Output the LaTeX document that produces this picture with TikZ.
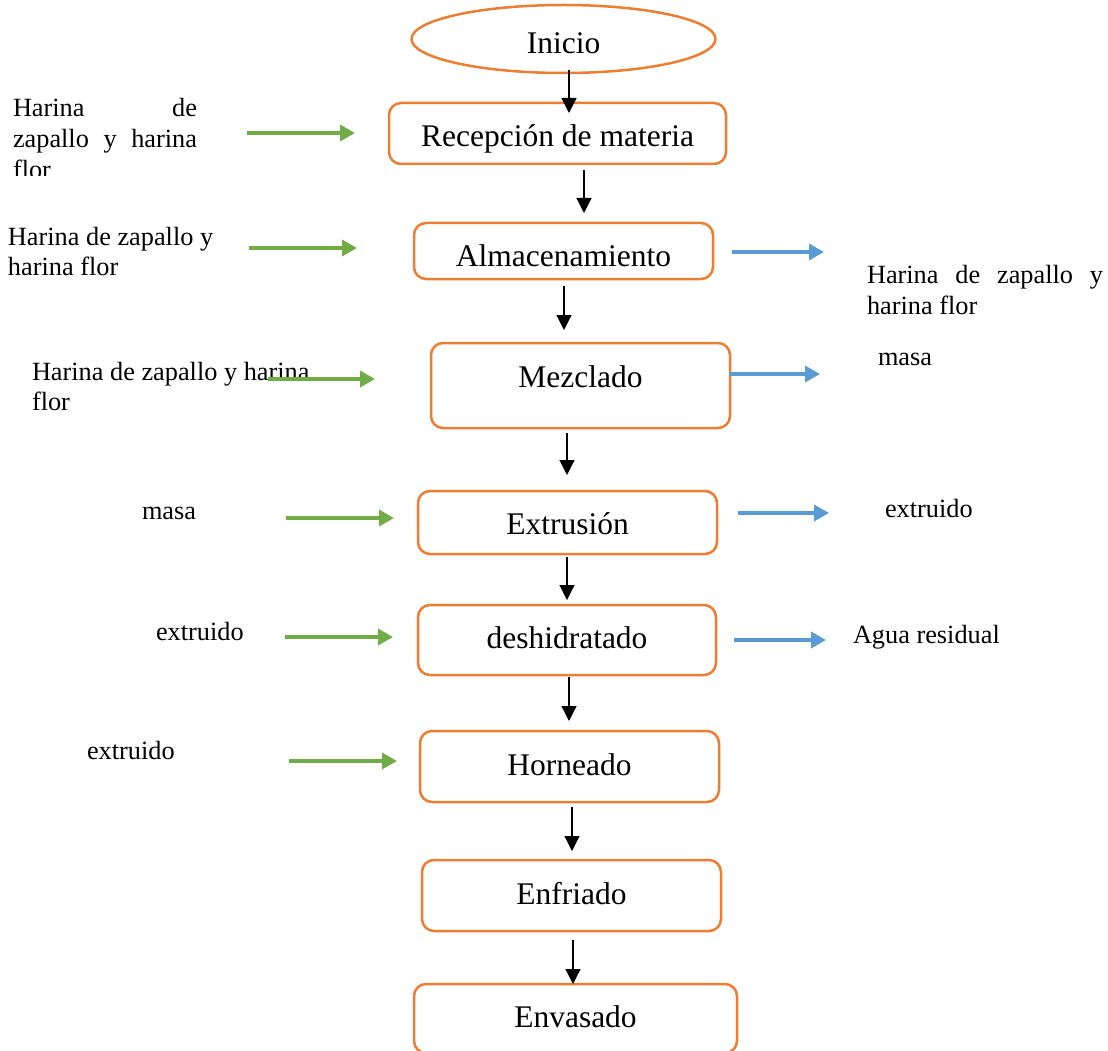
\documentclass[tikz,border=0pt]{standalone}
\usepackage{fontspec}
\setmainfont{Liberation Serif}
\usetikzlibrary{shapes.geometric,arrows.meta}
\definecolor{orn}{HTML}{ED7D31}
\definecolor{grn}{HTML}{70AD47}
\definecolor{blu}{HTML}{5B9BD5}
\newcommand\bxfont{\fontsize{31.5}{37}\selectfont}
\newcommand\sdfont{\fontsize{26.3}{31}\selectfont}
\begin{document}
\begin{tikzpicture}[x=1pt,y=-1pt,
  stepbox/.style={draw=orn, line width=2.5pt, rounded corners=12pt, inner sep=0pt, outer sep=0pt, font=\bxfont, text depth=0pt},
  startell/.style={ellipse, draw=orn, line width=2.5pt, inner sep=0pt, outer sep=0pt, font=\bxfont, text depth=0pt},
  sidelbl/.style={anchor=base west, inner sep=0pt, outer sep=0pt, font=\sdfont},
  blk/.style={line width=1.2pt, -{Triangle[length=15pt,width=15pt]}},
  garr/.style={grn, line width=3.5pt, -{Triangle[length=15pt,width=16pt]}},
  barr/.style={blu, line width=3.5pt, -{Triangle[length=15pt,width=16pt]}}]
\useasboundingbox (0,0) rectangle (1108,1051);
\clip (0,0) rectangle (1108,1051);

% main column
\node[startell, minimum width=304pt, minimum height=68pt, text height=30pt] (inicio) at (563.5,39) {Inicio};
\node[stepbox, minimum width=337pt, minimum height=61pt, text height=27pt] (rec) at (557.5,133.5) {Recepción de materia};
\node[stepbox, minimum width=299pt, minimum height=56pt, text height=30pt] (alm) at (563.5,251) {Almacenamiento};
\node[stepbox, minimum width=299pt, minimum height=85pt, text height=3pt] (mez) at (580.5,385.5) {Mezclado};
\node[stepbox, minimum width=299pt, minimum height=63pt, text height=23pt] (ext) at (567.5,522.5) {Extrusión};
\node[stepbox, minimum width=298pt, minimum height=70pt, text height=16pt] (desh) at (567,640) {deshidratado};
\node[stepbox, minimum width=299pt, minimum height=71pt, text height=17pt] (horn) at (569.5,766.5) {Horneado};
\node[stepbox, minimum width=299pt, minimum height=71pt, text height=17pt] (enf) at (571.5,895.5) {Enfriado};
\node[stepbox, minimum width=323pt, minimum height=69pt, text height=17pt] (env) at (575.5,1018.5) {Envasado};

% black flow arrows
\draw[blk] ([xshift=5.5pt,yshift=3pt]inicio.south) -- ([xshift=11.5pt,yshift=-10pt]rec.north);
\draw[blk] ([xshift=26.5pt,yshift=-6pt]rec.south) -- ([xshift=20.5pt,yshift=10pt]alm.north);
\draw[blk] ([xshift=0.5pt,yshift=-7pt]alm.south) -- ([xshift=-16.5pt,yshift=13pt]mez.north);
\draw[blk] ([xshift=-13.5pt,yshift=-5pt]mez.south) -- ([xshift=-0.5pt,yshift=16pt]ext.north);
\draw[blk] ([xshift=-0.5pt,yshift=-3pt]ext.south) -- ([xshift=0pt,yshift=5pt]desh.north);
\draw[blk] ([xshift=2pt,yshift=-2pt]desh.south) -- ([xshift=-0.5pt,yshift=10pt]horn.north);
\draw[blk] ([xshift=2.5pt,yshift=-5pt]horn.south) -- ([xshift=0.5pt,yshift=9pt]enf.north);
\draw[blk] ([xshift=1.5pt,yshift=-9pt]enf.south) -- ([xshift=-2.5pt,yshift=0pt]env.north);

% left labels
\begin{scope}
\clip (0,0) rectangle (400,176);
\node[sidelbl] (l1) at (13,117) {\vtop{\baselineskip=31pt\hbox to 184pt{Harina\hfill de}\hbox to 184pt{zapallo\hfill y\hfill harina}\hbox{flor}}};
\end{scope}
\node[sidelbl] (l2) at (8,245) {\vtop{\baselineskip=30pt\hbox{Harina de zapallo y}\hbox{harina flor}}};
\node[sidelbl] (l3) at (32,380) {\vtop{\baselineskip=30pt\hbox{Harina de zapallo y harina}\hbox{flor}}};
\node[sidelbl] (l4) at (142,519) {masa};
\node[sidelbl] (l5) at (156,640) {extruido};
\node[sidelbl] (l6) at (87,759) {extruido};

% right labels
\node[sidelbl] (r1) at (867,283) {\vtop{\baselineskip=32pt\hbox to 236pt{Harina\hfill de\hfill zapallo\hfill y}\hbox{harina flor}}};
\node[sidelbl] (r2) at (878,365) {masa};
\node[sidelbl] (r3) at (885,517) {extruido};
\node[sidelbl] (r4) at (853,643) {Agua residual};

% green input arrows
\coordinate (g1) at (247,133);
\coordinate (g2) at (249,248);
\coordinate (g3) at (268,379);
\coordinate (g4) at (286,518);
\coordinate (g5) at (285,637);
\coordinate (g6) at (289,761);
\draw[garr] (g1) -- ([xshift=-34pt]g1 -| rec.west);
\draw[garr] (g2) -- ([xshift=-57pt]g2 -| alm.west);
\draw[garr] (g3) -- ([xshift=-56pt]g3 -| mez.west);
\draw[garr] (g4) -- ([xshift=-24pt]g4 -| ext.west);
\draw[garr] (g5) -- ([xshift=-25pt]g5 -| desh.west);
\draw[garr] (g6) -- ([xshift=-23pt]g6 -| horn.west);

% blue output arrows
\coordinate (b1) at (824,252);
\coordinate (b2) at (820,374);
\coordinate (b3) at (829,513);
\coordinate (b4) at (826,640);
\draw[barr] ([xshift=19pt]b1 -| alm.east) -- (b1);
\draw[barr] ([xshift=-1pt]b2 -| mez.east) -- (b2);
\draw[barr] ([xshift=21pt]b3 -| ext.east) -- (b3);
\draw[barr] ([xshift=18pt]b4 -| desh.east) -- (b4);
\end{tikzpicture}
\end{document}
